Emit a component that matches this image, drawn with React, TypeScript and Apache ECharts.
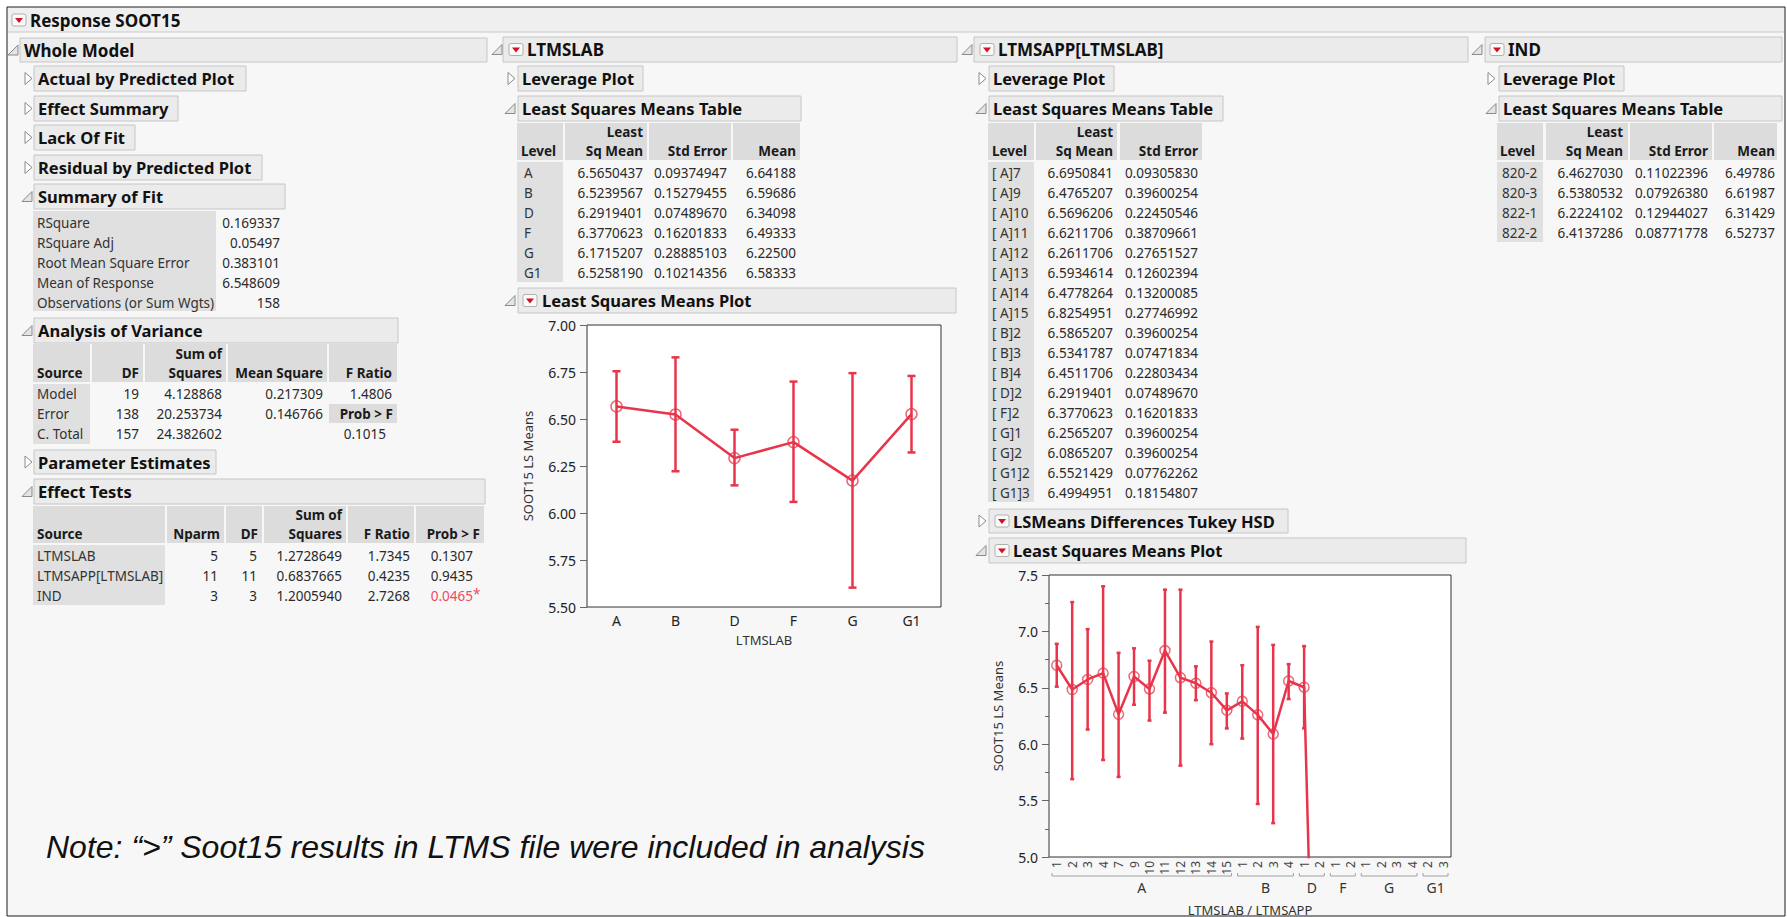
import React, { useEffect, useRef } from "react";
import * as echarts from "echarts";

const FONT = '"Segoe UI", "Noto Sans", "Open Sans", sans-serif';
const RED = "#e8354b";
const RED_MARK = "rgba(232,53,75,0.75)";
const BODY = 13.5;
const HEAD = 16.5;

// ---------- LTMSLAB Least Squares Means Plot ----------
const labCategories = ["A", "B", "D", "F", "G", "G1"];
const labMeans = [6.567, 6.524, 6.292, 6.377, 6.172, 6.526];
const labLower = [6.379, 6.222, 6.147, 6.059, 5.603, 6.322];
const labUpper = [6.754, 6.828, 6.443, 6.699, 6.744, 6.729];

// ---------- LTMSAPP[LTMSLAB] Least Squares Means Plot ----------
const appLabels = ["1", "2", "3", "4", "7", "9", "10", "11", "12", "13", "14", "15", "1", "2", "3", "4", "1", "2", "1", "2", "1", "2", "3", "4", "2", "3"];
const appGroups = ["A", "A", "A", "A", "A", "A", "A", "A", "A", "A", "A", "A", "B", "B", "B", "B", "D", "D", "F", "F", "G", "G", "G", "G", "G1", "G1"];
const appMeans = [6.70, 6.485, 6.574, 6.63, 6.265, 6.60, 6.49, 6.83, 6.59, 6.54, 6.456, 6.30, 6.38, 6.26, 6.09, 6.56, 6.505, 1.4, null, null, null, null, null, null, null, null];
const appLower = [6.51, 5.69, 6.13, 5.86, 5.71, 6.35, 6.21, 6.28, 5.81, 6.39, 6.0, 6.14, 6.05, 5.47, 5.30, 6.40, 6.14, null, null, null, null, null, null, null, null, null];
const appUpper = [6.89, 7.26, 7.02, 7.40, 6.81, 6.85, 6.74, 7.37, 7.37, 6.69, 6.91, 6.45, 6.70, 7.04, 6.88, 6.71, 6.87, null, null, null, null, null, null, null, null, null];

// ---------- Tables ----------
const fitLabels = ["RSquare", "RSquare Adj", "Root Mean Square Error", "Mean of Response", "Observations (or Sum Wgts)"];
const fitValues = ["0.169337", "0.05497", "0.383101", "6.548609", "158"];

const anovaSource = ["Model", "Error", "C. Total"];
const anovaDF = ["19", "138", "157"];
const anovaSS = ["4.128868", "20.253734", "24.382602"];
const anovaMS = ["0.217309", "0.146766", ""];
const anovaF = "1.4806";
const anovaP = "0.1015";

const effSource = ["LTMSLAB", "LTMSAPP[LTMSLAB]", "IND"];
const effNparm = ["5", "11", "3"];
const effDF = ["5", "11", "3"];
const effSS = ["1.2728649", "0.6837665", "1.2005940"];
const effF = ["1.7345", "0.4235", "2.7268"];
const effP = ["0.1307", "0.9435", "0.0465"];

const labLevel = ["A", "B", "D", "F", "G", "G1"];
const labLsm = ["6.5650437", "6.5239567", "6.2919401", "6.3770623", "6.1715207", "6.5258190"];
const labSe = ["0.09374947", "0.15279455", "0.07489670", "0.16201833", "0.28885103", "0.10214356"];
const labMean = ["6.64188", "6.59686", "6.34098", "6.49333", "6.22500", "6.58333"];

const appLevel = ["[ A]7", "[ A]9", "[ A]10", "[ A]11", "[ A]12", "[ A]13", "[ A]14", "[ A]15", "[ B]2", "[ B]3", "[ B]4", "[ D]2", "[ F]2", "[ G]1", "[ G]2", "[ G1]2", "[ G1]3"];
const appLsm = ["6.6950841", "6.4765207", "6.5696206", "6.6211706", "6.2611706", "6.5934614", "6.4778264", "6.8254951", "6.5865207", "6.5341787", "6.4511706", "6.2919401", "6.3770623", "6.2565207", "6.0865207", "6.5521429", "6.4994951"];
const appSe = ["0.09305830", "0.39600254", "0.22450546", "0.38709661", "0.27651527", "0.12602394", "0.13200085", "0.27746992", "0.39600254", "0.07471834", "0.22803434", "0.07489670", "0.16201833", "0.39600254", "0.39600254", "0.07762262", "0.18154807"];

const indLevel = ["820-2", "820-3", "822-1", "822-2"];
const indLsm = ["6.4627030", "6.5380532", "6.2224102", "6.4137286"];
const indSe = ["0.11022396", "0.07926380", "0.12944027", "0.08771778"];
const indMean = ["6.49786", "6.61987", "6.31429", "6.52737"];

const NOTE = "Note: \u201C>\u201D Soot15 results in LTMS file were included in analysis";

type El = any;

function buildStatic(): El[] {
  const els: El[] = [];
  const txt = (x: number, y: number, s: string, o: any = {}) => {
    els.push({
      type: "text",
      x,
      y,
      z: 6,
      style: {
        text: s,
        fill: o.color || "#2a2a2a",
        fontSize: o.size || BODY,
        fontWeight: o.bold ? "bold" : "normal",
        fontStyle: o.italic ? "italic" : "normal",
        fontFamily: o.family || FONT,
        align: o.align || "left",
        textAlign: o.align || "left",
        verticalAlign: "middle",
        textVerticalAlign: "middle",
      },
    });
  };
  const rect = (x0: number, y0: number, x1: number, y1: number, fill: string, stroke?: string, z = 2) => {
    els.push({
      type: "rect",
      z,
      shape: { x: x0, y: y0, width: x1 - x0, height: y1 - y0 },
      style: { fill, stroke: stroke || "none", lineWidth: 1 },
    });
  };
  const icon = (x: number, cy: number) => {
    els.push({ type: "rect", z: 4, shape: { x, y: cy - 6, width: 14, height: 12, r: 2 }, style: { fill: "#fafafa", stroke: "#b0b0b0", lineWidth: 1 } });
    els.push({ type: "polygon", z: 5, shape: { points: [[x + 3, cy - 2], [x + 11, cy - 2], [x + 7, cy + 3]] }, style: { fill: "#d2121e" } });
  };
  const section = (x0: number, x1: number, y0: number, y1: number, label: string, o: any) => {
    rect(x0, y0, x1, y1, "#ebebeb", "#c6c6c6", 2);
    const cy = (y0 + y1) / 2;
    if (o.tri === "open") {
      const t = o.triX;
      els.push({ type: "polygon", z: 4, shape: { points: [[t + 10, cy - 5], [t + 10, cy + 5], [t, cy + 5]] }, style: { fill: "#e4e4e4", stroke: "#8a8a8a", lineWidth: 1 } });
    } else if (o.tri === "closed") {
      const t = o.triX;
      els.push({ type: "polygon", z: 4, shape: { points: [[t, cy - 6], [t + 7, cy], [t, cy + 6]] }, style: { fill: "#ffffff", stroke: "#8a8a8a", lineWidth: 1 } });
    }
    if (o.icon != null) icon(o.icon, cy);
    txt(o.tx, cy, label, { bold: true, size: o.size || HEAD, color: "#111" });
  };
  const head = (cells: number[][], y0: number, y1: number) => {
    cells.forEach((c) => rect(c[0], y0, c[1], y1, "#dcdcdc"));
  };
  const headText = (x: number, y1: number, lines: string[], align: string) => {
    const n = lines.length;
    lines.forEach((l, i) => txt(x, y1 - 9 - 19 * (n - 1 - i), l, { bold: true, align, color: "#1a1a1a" }));
  };
  const col = (x: number, y0: number, vals: string[], align: string, color?: string) => {
    vals.forEach((v, i) => txt(x, y0 + 20 * i, v, { align, color: color || "#2a2a2a" }));
  };

  // page frame
  rect(7, 7, 1785, 916, "#f7f7f7", "#1a1a1a", -10);
  // title bar
  rect(8, 8, 1784, 32, "#efefef", "none", -9);
  els.push({ type: "line", z: -8, shape: { x1: 8, y1: 32, x2: 1784, y2: 32 }, style: { stroke: "#c8c8c8", lineWidth: 1 } });
  icon(12, 20);
  txt(30, 20, "Response SOOT15", { bold: true, size: 17, color: "#111" });

  // ----- Whole Model column -----
  section(20, 487, 38, 62, "Whole Model", { tri: "open", triX: 8, tx: 24, size: 17 });
  section(34, 246, 66, 91, "Actual by Predicted Plot", { tri: "closed", triX: 25, tx: 38 });
  section(34, 178, 96, 121, "Effect Summary", { tri: "closed", triX: 25, tx: 38 });
  section(34, 135, 125, 150, "Lack Of Fit", { tri: "closed", triX: 25, tx: 38 });
  section(34, 262, 155, 180, "Residual by Predicted Plot", { tri: "closed", triX: 25, tx: 38 });
  section(34, 285, 184, 209, "Summary of Fit", { tri: "open", triX: 22, tx: 38 });
  rect(33, 211, 216, 311, "#e0e0e0");
  col(37, 222.5, fitLabels, "left", "#333");
  col(280, 222.5, fitValues, "right");

  section(34, 398, 318, 343, "Analysis of Variance", { tri: "open", triX: 22, tx: 38 });
  head([[33, 90], [92, 143], [145, 226], [228, 327], [329, 397]], 344, 382);
  headText(37, 382, ["Source"], "left");
  headText(139, 382, ["DF"], "right");
  headText(222, 382, ["Sum of", "Squares"], "right");
  headText(323, 382, ["Mean Square"], "right");
  headText(392, 382, ["F Ratio"], "right");
  rect(33, 384, 90, 444, "#e0e0e0");
  col(37, 394, anovaSource, "left", "#333");
  col(139, 394, anovaDF, "right");
  col(222, 394, anovaSS, "right");
  col(323, 394, anovaMS, "right");
  txt(392, 394, anovaF, { align: "right" });
  rect(329, 404, 397, 423, "#dcdcdc");
  txt(393, 414, "Prob > F", { bold: true, align: "right", color: "#1a1a1a" });
  txt(386, 434, anovaP, { align: "right" });

  section(34, 216, 450, 474, "Parameter Estimates", { tri: "closed", triX: 25, tx: 38 });
  section(34, 485, 479, 504, "Effect Tests", { tri: "open", triX: 22, tx: 38 });
  head([[33, 165], [167, 224], [226, 262], [264, 346], [348, 414], [416, 484]], 506, 543);
  headText(37, 543, ["Source"], "left");
  headText(220, 543, ["Nparm"], "right");
  headText(258, 543, ["DF"], "right");
  headText(342, 543, ["Sum of", "Squares"], "right");
  headText(410, 543, ["F Ratio"], "right");
  headText(480, 543, ["Prob > F"], "right");
  rect(33, 545, 165, 605, "#e0e0e0");
  col(37, 556, effSource, "left", "#333");
  col(218, 556, effNparm, "right");
  col(257, 556, effDF, "right");
  col(342, 556, effSS, "right");
  col(410, 556, effF, "right");
  col(473, 556, effP.slice(0, 2), "right");
  txt(473, 596, effP[2], { align: "right", color: "#ee4a62" });
  txt(473, 594, "*", { align: "left", color: "#ee4a62" });

  // ----- LTMSLAB column -----
  section(503, 957, 37, 62, "LTMSLAB", { tri: "open", triX: 492, icon: 509, tx: 527, size: 17 });
  section(518, 643, 66, 91, "Leverage Plot", { tri: "closed", triX: 508, tx: 522 });
  section(518, 801, 96, 121, "Least Squares Means Table", { tri: "open", triX: 505, tx: 522 });
  head([[517, 563], [565, 647], [649, 731], [733, 800]], 123, 160);
  headText(521, 160, ["Level"], "left");
  headText(643, 160, ["Least", "Sq Mean"], "right");
  headText(727, 160, ["Std Error"], "right");
  headText(796, 160, ["Mean"], "right");
  rect(517, 162, 563, 282, "#e0e0e0");
  col(524, 173, labLevel, "left", "#333");
  col(643, 173, labLsm, "right");
  col(727, 173, labSe, "right");
  col(796, 173, labMean, "right");
  section(518, 956, 288, 313, "Least Squares Means Plot", { tri: "open", triX: 505, icon: 523, tx: 542 });

  // ----- LTMSAPP column -----
  section(974, 1468, 37, 62, "LTMSAPP[LTMSLAB]", { tri: "open", triX: 962, icon: 980, tx: 998, size: 17 });
  section(989, 1114, 66, 91, "Leverage Plot", { tri: "closed", triX: 979, tx: 993 });
  section(989, 1223, 96, 121, "Least Squares Means Table", { tri: "open", triX: 976, tx: 993 });
  head([[988, 1034], [1036, 1117], [1120, 1202]], 123, 160);
  headText(992, 160, ["Level"], "left");
  headText(1113, 160, ["Least", "Sq Mean"], "right");
  headText(1198, 160, ["Std Error"], "right");
  rect(988, 162, 1034, 502, "#e0e0e0");
  col(992, 173, appLevel, "left", "#333");
  col(1113, 173, appLsm, "right");
  col(1198, 173, appSe, "right");
  section(989, 1288, 509, 533, "LSMeans Differences Tukey HSD", { tri: "closed", triX: 979, icon: 995, tx: 1013 });
  section(989, 1466, 538, 563, "Least Squares Means Plot", { tri: "open", triX: 976, icon: 995, tx: 1013 });

  // ----- IND column -----
  section(1485, 1782, 37, 62, "IND", { tri: "open", triX: 1472, icon: 1490, tx: 1508, size: 17 });
  section(1499, 1624, 66, 91, "Leverage Plot", { tri: "closed", triX: 1488, tx: 1503 });
  section(1499, 1782, 96, 121, "Least Squares Means Table", { tri: "open", triX: 1486, tx: 1503 });
  head([[1497, 1543], [1546, 1628], [1630, 1712], [1714, 1777]], 123, 160);
  headText(1500, 160, ["Level"], "left");
  headText(1623, 160, ["Least", "Sq Mean"], "right");
  headText(1708, 160, ["Std Error"], "right");
  headText(1775, 160, ["Mean"], "right");
  rect(1497, 162, 1543, 242, "#e0e0e0");
  col(1502, 173, indLevel, "left", "#333");
  col(1623, 173, indLsm, "right");
  col(1708, 173, indSe, "right");
  col(1775, 173, indMean, "right");

  // note
  txt(46, 847, NOTE, { italic: true, size: 32, family: '"Liberation Sans", Arial, sans-serif', color: "#111" });

  return els;
}

function errorBars(capHalf: number) {
  return (params: any, api: any) => {
    const lo = api.value(1);
    const hi = api.value(2);
    if (lo == null || hi == null || isNaN(lo) || isNaN(hi)) return null;
    const x = api.value(0);
    const p1 = api.coord([x, lo]);
    const p2 = api.coord([x, hi]);
    const style = { stroke: RED, lineWidth: 2.5, fill: "none" };
    return {
      type: "group",
      children: [
        { type: "line", shape: { x1: p1[0], y1: p1[1], x2: p2[0], y2: p2[1] }, style },
        { type: "line", shape: { x1: p1[0] - capHalf, y1: p1[1], x2: p1[0] + capHalf, y2: p1[1] }, style },
        { type: "line", shape: { x1: p2[0] - capHalf, y1: p2[1], x2: p2[0] + capHalf, y2: p2[1] }, style },
      ],
    };
  };
}

export default function App() {
  const ref = useRef<HTMLDivElement>(null);
  useEffect(() => {
    document.body.style.margin = "0";
    const chart = echarts.init(ref.current!, null, { renderer: "svg" });
    const axisText = { fontFamily: FONT, color: "#222" };
    chart.setOption({
      animation: false,
      backgroundColor: "#ffffff",
      grid: [
        { left: 587, top: 325, width: 354, height: 282, show: true, backgroundColor: "#ffffff", borderColor: "#333", borderWidth: 1 },
        { left: 1049, top: 575, width: 402, height: 283, show: true, backgroundColor: "#ffffff", borderColor: "#333", borderWidth: 1 },
      ],
      xAxis: [
        {
          type: "category",
          gridIndex: 0,
          data: labCategories,
          axisLine: { show: false },
          axisTick: { show: false },
          axisLabel: { ...axisText, fontSize: 14, margin: 6 },
          name: "LTMSLAB",
          nameLocation: "middle",
          nameGap: 26,
          nameTextStyle: { ...axisText, fontSize: 13, color: "#333" },
        },
        {
          type: "category",
          gridIndex: 1,
          data: appLabels,
          axisLine: { show: false },
          axisTick: { show: false },
          axisLabel: { ...axisText, fontSize: 12, rotate: 90, interval: 0, margin: 4, color: "#444" },
          name: "LTMSLAB / LTMSAPP",
          nameLocation: "middle",
          nameGap: 46,
          nameTextStyle: { ...axisText, fontSize: 13, color: "#333" },
        },
      ],
      yAxis: [
        {
          type: "value",
          gridIndex: 0,
          min: 5.5,
          max: 7.0,
          interval: 0.25,
          axisLine: { show: false },
          axisTick: { show: true, length: 7, lineStyle: { color: "#666" } },
          splitLine: { show: false },
          axisLabel: { ...axisText, fontSize: 14, margin: 11, formatter: (v: number) => v.toFixed(2) },
          name: "SOOT15 LS Means",
          nameLocation: "middle",
          nameGap: 53,
          nameTextStyle: { ...axisText, fontSize: 13, color: "#333" },
        },
        {
          type: "value",
          gridIndex: 1,
          min: 5.0,
          max: 7.5,
          interval: 0.5,
          axisLine: { show: false },
          axisTick: { show: true, length: 7, lineStyle: { color: "#666" } },
          minorTick: { show: true, splitNumber: 2, length: 4, lineStyle: { color: "#666" } },
          splitLine: { show: false },
          axisLabel: { ...axisText, fontSize: 14, margin: 11, formatter: (v: number) => v.toFixed(1) },
          name: "SOOT15 LS Means",
          nameLocation: "middle",
          nameGap: 45,
          nameTextStyle: { ...axisText, fontSize: 13, color: "#333" },
        },
      ],
      series: [
        {
          type: "custom",
          xAxisIndex: 0,
          yAxisIndex: 0,
          z: 3,
          data: labCategories.map((_, i) => [i, labLower[i], labUpper[i]]),
          encode: { x: 0, y: [1, 2] },
          renderItem: errorBars(4),
        },
        {
          type: "line",
          xAxisIndex: 0,
          yAxisIndex: 0,
          z: 4,
          data: labMeans,
          symbol: "circle",
          symbolSize: 11,
          lineStyle: { color: RED, width: 2.5 },
          itemStyle: { color: "rgba(255,255,255,0)", borderColor: RED_MARK, borderWidth: 1.5 },
        },
        {
          type: "custom",
          xAxisIndex: 1,
          yAxisIndex: 1,
          z: 3,
          data: appLabels.map((_, i) => [i, appLower[i], appUpper[i]]),
          encode: { x: 0, y: [1, 2] },
          renderItem: errorBars(2),
        },
        {
          type: "line",
          xAxisIndex: 1,
          yAxisIndex: 1,
          z: 4,
          clip: true,
          data: appMeans,
          connectNulls: false,
          symbol: "circle",
          symbolSize: 10,
          lineStyle: { color: RED, width: 2.5 },
          itemStyle: { color: "rgba(255,255,255,0)", borderColor: RED_MARK, borderWidth: 1.5 },
        },
      ],
    });

    // group brackets under the nested category axis, positioned through the axis scale
    const els = buildStatic();
    const runs: { name: string; start: number; end: number }[] = [];
    appGroups.forEach((g, i) => {
      const last = runs[runs.length - 1];
      if (last && last.name === g) last.end = i;
      else runs.push({ name: g, start: i, end: i });
    });
    const p0 = chart.convertToPixel({ gridIndex: 1 }, [0, 5.0]) as number[];
    const p1 = chart.convertToPixel({ gridIndex: 1 }, [1, 5.0]) as number[];
    const band = p1[0] - p0[0];
    const by = p0[1] + 19;
    runs.forEach((r) => {
      const a = (chart.convertToPixel({ gridIndex: 1 }, [r.start, 5.0]) as number[])[0] - band / 2 + 3;
      const b = (chart.convertToPixel({ gridIndex: 1 }, [r.end, 5.0]) as number[])[0] + band / 2 - 3;
      els.push({
        type: "polyline",
        z: 6,
        shape: { points: [[a, by - 3], [a, by], [b, by], [b, by - 3]] },
        style: { stroke: "#a0a0a0", lineWidth: 1, fill: "none" },
      });
      els.push({
        type: "text",
        x: (a + b) / 2,
        y: by + 11,
        z: 6,
        style: { text: r.name, fill: "#333", fontSize: 14, fontFamily: FONT, align: "center", textAlign: "center", verticalAlign: "middle", textVerticalAlign: "middle" },
      });
    });
    chart.setOption({ graphic: { elements: els } });

    return () => chart.dispose();
  }, []);
  return <div ref={ref} style={{ position: "absolute", left: 0, top: 0, width: 1787, height: 917 }} />;
}
